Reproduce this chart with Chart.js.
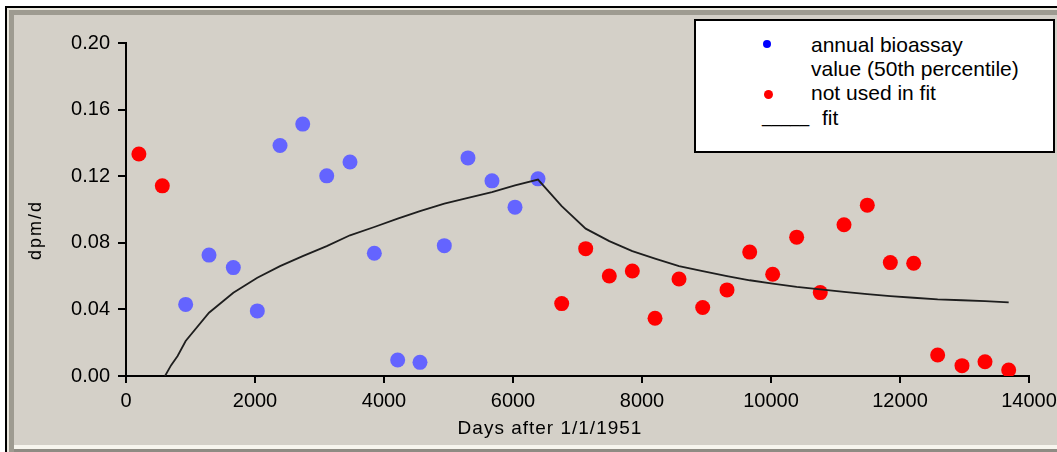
<!DOCTYPE html>
<html lang="en">
  <head>
    <meta charset="UTF-8" />
    <title>dpm/d vs days</title>
    <style>
      body { margin: 0; background: #fff; font-family: "Liberation Sans", Arial, sans-serif; }
      .frame {
        position: absolute; left: 5px; top: 6px; width: 1052px; height: 446px;
        box-sizing: border-box; border-top: 2px solid #000; border-left: 2px solid #000;
        background: #d4d0c8;
        box-shadow: inset 2px 2px 0 #ebe8de, inset 7px 7px 0 #9e9b91,
          inset 0 -3px 0 #8f8c84, inset 0 -7px 0 #f7f5ee;
      }
      .chartBox { position: absolute; left: 0; top: 0; width: 1057px; height: 452px; }
      .legend {
        position: absolute; left: 694px; top: 19px; width: 361px; height: 134px;
        box-sizing: border-box; border: 2px solid #000; background: #fff;
      }
      .lg { position: absolute; font-size: 21px; line-height: 24px; color: #000; white-space: nowrap; }
      .dot { position: absolute; border-radius: 50%; }
    </style>
  </head>
  <body>
    <div class="frame"></div>
    <div class="chartBox"><canvas id="myChart"></canvas></div>
    <div class="legend"></div>
    <span class="dot" style="left:763px;top:40px;width:8px;height:8px;background:#0000ff"></span>
    <span class="lg" style="left:811px;top:33px">annual bioassay</span>
    <span class="lg" style="left:811px;top:57px">value (50th percentile)</span>
    <span class="dot" style="left:764px;top:90px;width:9px;height:9px;background:#ff0000"></span>
    <span class="lg" style="left:811px;top:81px">not used in fit</span>
    <span class="lg" style="left:762px;top:106px;font-size:17px">_____</span>
    <span class="lg" style="left:822px;top:106px">fit</span>
    <script src="https://cdn.jsdelivr.net/npm/chart.js"></script>
    <script>
      // points used in the fit (blue)
      const usedDays = [925, 1287, 1664, 2036, 2388, 2740, 3112, 3473, 3850, 4212, 4558, 4935, 5302, 5674, 6031, 6388];
      const usedDpm = [0.043, 0.0726, 0.0651, 0.0391, 0.1384, 0.1513, 0.1202, 0.1285, 0.0737, 0.0096, 0.0082, 0.0783, 0.131, 0.1172, 0.1014, 0.1184];
      // points not used in the fit (red)
      const otherDays = [200, 563, 6755, 7127, 7493, 7850, 8202, 8574, 8941, 9318, 9670, 10026, 10398, 10764, 11132, 11493, 11850, 12212, 12584, 12961, 13318, 13685];
      const otherDpm = [0.1333, 0.1142, 0.0435, 0.0765, 0.0601, 0.0631, 0.0347, 0.0583, 0.0411, 0.0517, 0.0744, 0.0611, 0.0834, 0.0501, 0.0908, 0.1026, 0.0681, 0.0677, 0.0126, 0.0062, 0.0086, 0.0036];
      // fitted curve
      const fitDays = [605, 700, 800, 925, 1287, 1664, 2036, 2388, 2740, 3112, 3473, 3850, 4212, 4558, 4935, 5302, 5674, 6031, 6388, 6755, 7127, 7493, 7850, 8202, 8574, 8941, 9318, 9670, 10026, 10398, 10764, 11132, 11493, 11850, 12212, 12584, 12961, 13318, 13685];
      const fitDpm = [0, 0.0065, 0.012, 0.021, 0.038, 0.05, 0.059, 0.066, 0.072, 0.078, 0.0845, 0.0895, 0.0945, 0.099, 0.1035, 0.107, 0.1105, 0.1145, 0.118, 0.102, 0.0885, 0.081, 0.075, 0.0705, 0.066, 0.063, 0.06, 0.0575, 0.0555, 0.0535, 0.052, 0.0505, 0.0492, 0.048, 0.047, 0.046, 0.0455, 0.045, 0.0442];
      const xTitle = "Days after 1/1/1951";
      const yTitle = "dpm/d";

      const toXY = (xs, ys) => xs.map((x, i) => ({ x: x, y: ys[i] }));
      const fontFam = '"Liberation Sans", Arial, sans-serif';

      // axis titles drawn where the original puts them
      const axisTitles = {
        id: "axisTitles",
        afterDraw(chart) {
          const c = chart.ctx;
          c.save();
          c.fillStyle = "#000";
          c.font = "19px " + fontFam;
          c.letterSpacing = "1px";
          c.textAlign = "center";
          c.textBaseline = "alphabetic";
          c.fillText(xTitle, 550, 434);
          c.letterSpacing = "2px";
          c.font = "18px " + fontFam;
          c.translate(41, 230);
          c.rotate(-Math.PI / 2);
          c.fillText(yTitle, 0, 0);
          c.restore();
        },
      };

      const axisStyle = {
        grid: { display: true, drawOnChartArea: false, drawTicks: true, tickLength: 8, color: "#000", lineWidth: 2 },
        border: { display: true, color: "#000", width: 2 },
      };

      const ctx = document.getElementById("myChart").getContext("2d");
      const myChart = new Chart(ctx, {
        type: "scatter",
        data: {
          datasets: [
            {
              type: "line",
              label: "fit",
              data: toXY(fitDays, fitDpm),
              borderColor: "#1e1e1e",
              borderWidth: 1.8,
              pointRadius: 0,
              tension: 0,
              fill: false,
              order: 0,
            },
            {
              label: "annual bioassay value (50th percentile)",
              data: toXY(usedDays, usedDpm),
              backgroundColor: "#6464ff",
              borderColor: "#6464ff",
              borderWidth: 0,
              pointRadius: 7.5,
              order: 1,
            },
            {
              label: "not used in fit",
              data: toXY(otherDays, otherDpm),
              backgroundColor: "#ff0000",
              borderColor: "#ff0000",
              borderWidth: 0,
              pointRadius: 7.5,
              order: 2,
            },
          ],
        },
        options: {
          responsive: true,
          maintainAspectRatio: false,
          animation: false,
          layout: { padding: { top: 43, right: 28, left: 0, bottom: 0 } },
          plugins: { legend: { display: false }, tooltip: { enabled: false } },
          scales: {
            x: {
              type: "linear",
              min: 0,
              max: 14000,
              ...axisStyle,
              grid: { ...axisStyle.grid, tickLength: 7 },
              ticks: {
                stepSize: 2000,
                color: "#000",
                padding: 6,
                maxRotation: 0,
                font: { size: 20, family: fontFam },
                callback: (v) => String(v),
              },
              afterFit(scale) {
                scale.height = 76;
                scale.paddingLeft = 0;
                scale.paddingRight = 0;
              },
            },
            y: {
              min: 0,
              max: 0.2,
              ...axisStyle,
              ticks: {
                stepSize: 0.04,
                color: "#000",
                padding: 8,
                font: { size: 20, family: fontFam },
                callback: (v) => v.toFixed(2),
              },
              afterFit(scale) { scale.width = 126; },
            },
          },
        },
        plugins: [axisTitles],
      });
    </script>
  </body>
</html>
